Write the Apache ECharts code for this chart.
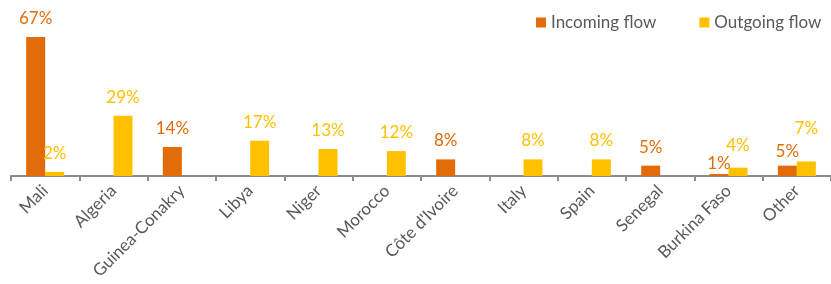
<!DOCTYPE html>
<html>
<head>
<meta charset="utf-8">
<script src="https://cdn.jsdelivr.net/npm/echarts@6/dist/echarts.min.js"></script>
<style>
  html, body { margin: 0; padding: 0; background: #fff; }
  #bar { width: 831px; height: 284px; }
</style>
</head>
<body>
<div id="bar"></div>
<script>
// 数据
var countries = ['Mali', 'Algeria', 'Guinea-Conakry', 'Libya', 'Niger', 'Morocco', 'Côte d\'Ivoire', 'Italy', 'Spain', 'Senegal', 'Burkina Faso', 'Other'];
var incoming = [67, '-', 14, '-', '-', '-', 8, '-', '-', 5, 1, 5];
var outgoing = [2, 29, '-', 17, 13, 12, '-', 8, 8, '-', 4, 7];

var font = 'Lato, "Open Sans", sans-serif';

// 个别标签的间距（参考图里手动挪过）
var inDist = { 10: 2, 11: 6 };
var outDist = { 10: 14, 11: 24 };

function withDist (arr, dist) {
  return arr.map(function (v, i) {
    if (dist[i] === undefined) return v;
    return { value: v, label: { distance: dist[i] } };
  });
}

function flowChart () {
  const myChart = echarts.init(document.getElementById('bar'));
  const option = {
    animation: false,
    textStyle: { fontFamily: font },
    legend: {
      left: 531,
      top: 9,
      itemWidth: 10,
      itemHeight: 10,
      itemGap: 43,
      icon: 'rect',
      textStyle: { fontSize: 17, color: '#595959', fontFamily: font },
      data: ['Incoming flow', 'Outgoing flow']
    },
    grid: {
      left: 11,
      right: 0,
      top: 10,
      bottom: 108
    },
    xAxis: {
      type: 'category',
      data: countries,
      axisLine: { lineStyle: { color: '#8c8c8c', width: 2 } },
      axisTick: { show: true, length: 5, lineStyle: { color: '#8c8c8c', width: 2 } },
      axisLabel: {
        rotate: 45,
        interval: 0,
        fontSize: 17,
        color: '#595959',
        fontFamily: font,
        margin: 12
      }
    },
    yAxis: {
      type: 'value',
      min: 0,
      max: 80,
      show: false,
      splitLine: { show: false }
    },
    series: [{
      name: 'Incoming flow',
      type: 'bar',
      data: withDist(incoming, inDist),
      barWidth: 19,
      barGap: '0%',
      itemStyle: { color: '#E36C0A' },
      label: {
        show: true,
        position: 'top',
        distance: 10,
        formatter: '{c}%',
        color: '#E36C0A',
        fontSize: 17,
        fontFamily: font
      }
    }, {
      name: 'Outgoing flow',
      type: 'bar',
      data: withDist(outgoing, outDist),
      barWidth: 19,
      itemStyle: { color: '#FFC000' },
      label: {
        show: true,
        position: 'top',
        distance: 10,
        formatter: '{c}%',
        color: '#FFC000',
        fontSize: 17,
        fontFamily: font
      }
    }]
  };
  myChart.setOption(option);
}
flowChart();
</script>
</body>
</html>
